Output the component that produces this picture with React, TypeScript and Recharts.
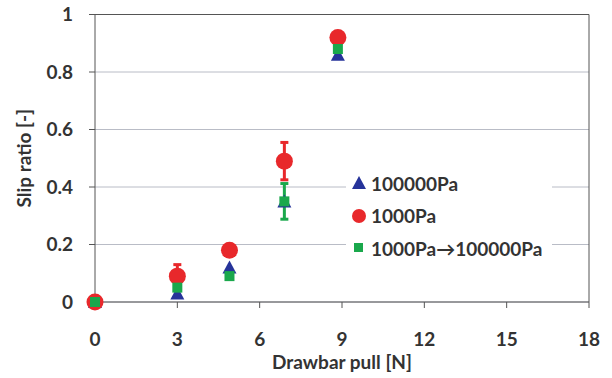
import React from 'react';
import { ScatterChart, Scatter, XAxis, YAxis, CartesianGrid, ErrorBar, ReferenceLine } from 'recharts';

const pulls100k = [0, 3, 4.9, 6.9, 8.85];
const slip100k = [0, 0.03, 0.12, 0.35, 0.86];
const pulls1k = [0, 3, 4.9, 6.9, 8.85];
const slip1k = [0, 0.09, 0.18, 0.49, 0.92];
const err1k = [0, 0.04, 0.01, 0.065, 0];
const pullsMix = [0, 3, 4.9, 6.9, 8.85];
const slipMix = [0, 0.05, 0.09, 0.35, 0.88];
const errMix = [0, 0, 0, 0.062, 0];
const xTicks = [0, 3, 6, 9, 12, 15, 18];
const yTicks = [0, 0.2, 0.4, 0.6, 0.8, 1];
const seriesNames = ['100000Pa', '1000Pa', '1000Pa\u2192100000Pa'];

const BLUE = '#26339a';
const RED = '#e8282b';
const GREEN = '#1aa84c';
const TXT = '#333333';
const FONT = 'Lato, "Open Sans", sans-serif';

const d100k = pulls100k.map((x, i) => ({ x, y: slip100k[i] }));
const d1k = pulls1k.map((x, i) => ({ x, y: slip1k[i], e: err1k[i] }));
const dMix = pullsMix.map((x, i) => ({ x, y: slipMix[i], e: errMix[i] }));

const Tri = (p: any) => {
  const { cx, cy } = p;
  if (cx == null || cy == null) return null;
  return <polygon points={`${cx - 7},${cy + 6} ${cx + 7},${cy + 6} ${cx},${cy - 7}`} fill={BLUE} />;
};
const Circ = (p: any) => {
  const { cx, cy } = p;
  if (cx == null || cy == null) return null;
  return <circle cx={cx} cy={cy} r={8.5} fill={RED} />;
};
const Sq = (p: any) => {
  const { cx, cy } = p;
  if (cx == null || cy == null) return null;
  return <rect x={cx - 5} y={cy - 5} width={10} height={10} fill={GREEN} />;
};

const LegendBox = () => {
  const rows = [
    { name: seriesNames[0], icon: <polygon points="0,13 14,13 7,0" fill={BLUE} /> },
    { name: seriesNames[1], icon: <circle cx={7} cy={7} r={7} fill={RED} /> },
    { name: seriesNames[2], icon: <rect x={2} y={2} width={9} height={9} fill={GREEN} /> },
  ];
  return (
    <div style={{ position: 'absolute', left: 346, top: 166, background: '#fff', padding: '1px 10px 1px 6px', fontFamily: FONT, fontWeight: 700, fontSize: 19, color: TXT }}>
      {rows.map((r) => (
        <div key={r.name} style={{ display: 'flex', alignItems: 'center', height: 32.5 }}>
          <svg width={14} height={14} style={{ marginRight: 5 }}>{r.icon}</svg>
          <span>{r.name}</span>
        </div>
      ))}
    </div>
  );
};

export default function App() {
  return (
    <div style={{ position: 'absolute', left: 0, top: 0, background: '#fff' }}>
      <ScatterChart width={612} height={378} margin={{ top: 14.5, right: 23, bottom: 0, left: 0 }}>
        <CartesianGrid horizontal vertical={false} stroke="#b9bcc6" strokeWidth={1} />
        <XAxis
          type="number"
          dataKey="x"
          domain={[0, 18]}
          ticks={xTicks}
          height={76}
          stroke="#555"
          tickSize={6}
          tickMargin={25}
          tick={{ fill: TXT, fontSize: 19, fontWeight: 700, fontFamily: FONT }}
          label={{ value: 'Drawbar pull [N]', position: 'insideBottom', offset: 9, fill: TXT, fontSize: 19, fontWeight: 700, fontFamily: FONT }}
        />
        <YAxis
          type="number"
          dataKey="y"
          domain={[0, 1]}
          ticks={yTicks}
          width={95}
          stroke="#555"
          tickSize={6}
          tickMargin={16}
          tickFormatter={(v: number) => String(Math.round(v * 10) / 10)}
          tick={{ fill: TXT, fontSize: 19, fontWeight: 700, fontFamily: FONT }}
          label={{ value: 'Slip ratio [-]', angle: -90, position: 'insideLeft', offset: 24, fill: TXT, fontSize: 19, fontWeight: 700, fontFamily: FONT, style: { textAnchor: 'middle' } }}
        />
        <ReferenceLine y={1} stroke="#555" strokeWidth={1} />
        <ReferenceLine x={18} stroke="#555" strokeWidth={1} />
        <Scatter name={seriesNames[0]} data={d100k} shape={<Tri />} isAnimationActive={false} />
        <Scatter name={seriesNames[1]} data={d1k} shape={<Circ />} isAnimationActive={false}>
          <ErrorBar dataKey="e" direction="y" stroke={RED} strokeWidth={3} width={4} />
        </Scatter>
        <Scatter name={seriesNames[2]} data={dMix} shape={<Sq />} isAnimationActive={false}>
          <ErrorBar dataKey="e" direction="y" stroke={GREEN} strokeWidth={3} width={4} />
        </Scatter>
      </ScatterChart>
      <LegendBox />
    </div>
  );
}
